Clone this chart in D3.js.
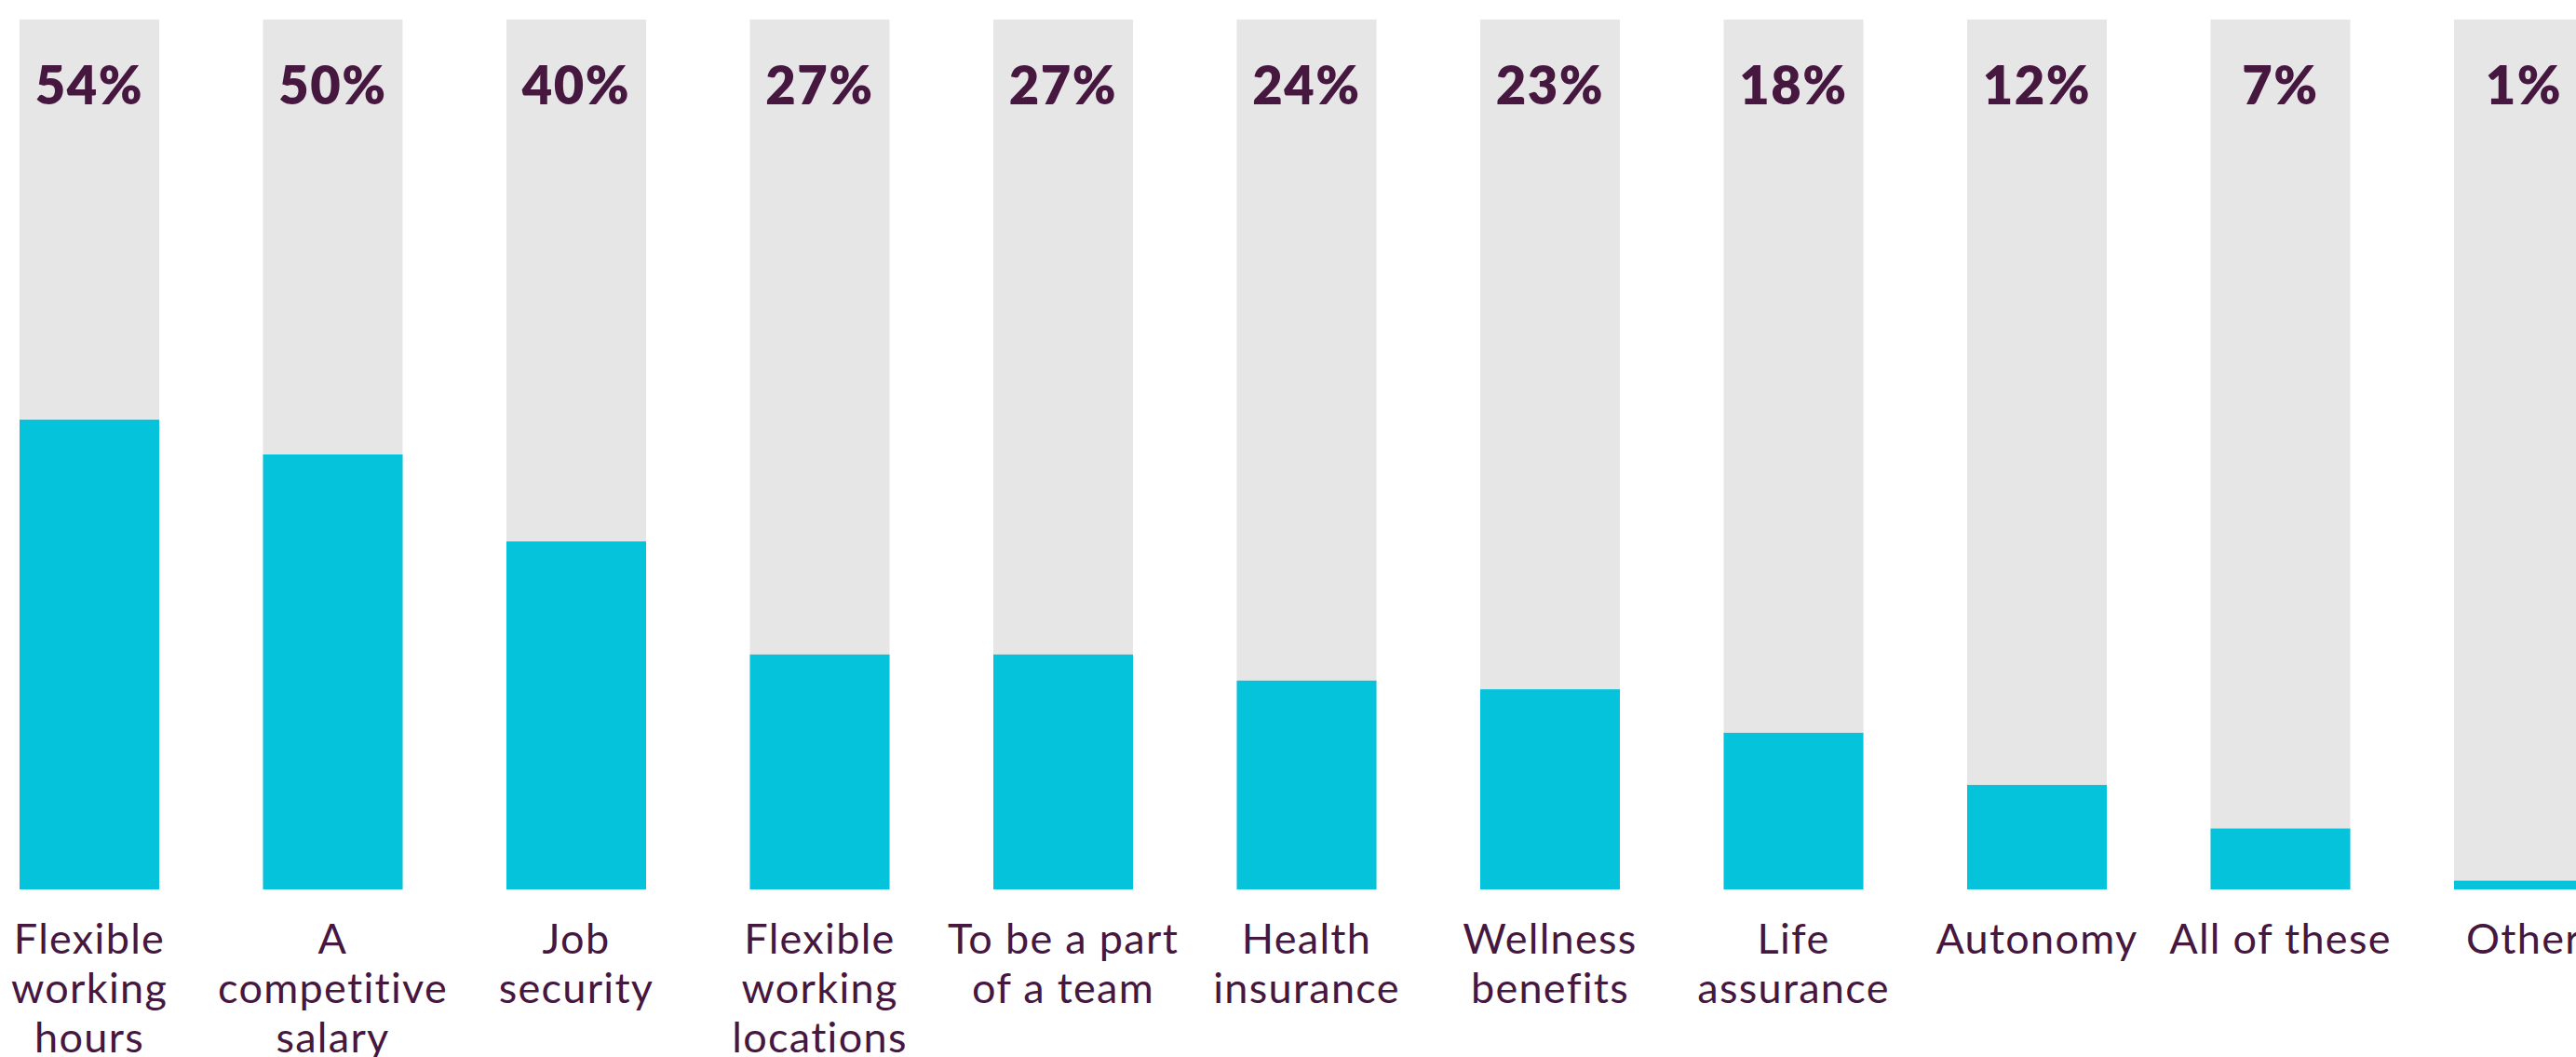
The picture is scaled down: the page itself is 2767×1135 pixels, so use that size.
<!DOCTYPE html>
<html>
<head>
<meta charset="utf-8">
<script src="https://cdn.jsdelivr.net/npm/d3@7"></script>
<style>
  html, body { margin: 0; padding: 0; background: #ffffff; overflow: hidden; }
  svg { display: block; }
  text { font-variant-ligatures: none; font-feature-settings: "liga" 0, "clig" 0; }
</style>
</head>
<body>
<svg id="chart" width="2767" height="1135"></svg>
<script>
// ---- Data ----
const categories = [
  "Flexible working hours",
  "A competitive salary",
  "Job security",
  "Flexible working locations",
  "To be a part of a team",
  "Health insurance",
  "Wellness benefits",
  "Life assurance",
  "Autonomy",
  "All of these",
  "Other"
];
const labelLines = [
  ["Flexible", "working", "hours"],
  ["A", "competitive", "salary"],
  ["Job", "security"],
  ["Flexible", "working", "locations"],
  ["To be a part", "of a team"],
  ["Health", "insurance"],
  ["Wellness", "benefits"],
  ["Life", "assurance"],
  ["Autonomy"],
  ["All of these"],
  ["Other"]
];
const values = [54, 50, 40, 27, 27, 24, 23, 18, 12, 7, 1];
const maxValue = 100;

// ---- Layout ----
const W = 2767, H = 1135;
const svg = d3.select("#chart");
const textColor = "#46173f";
const fillColor = "#06c3dc";
const trackColor = "#e6e6e6";
const fontFam = "Lato, 'Open Sans', sans-serif";

const x = d3.scaleBand()
  .domain(categories)
  .range([21, 2786])
  .paddingInner(0.4264)
  .paddingOuter(0);

const y = d3.scaleLinear()
  .domain([0, maxValue])
  .range([955, 21]);

const data = categories.map((c, i) => ({ cat: c, value: values[i], lines: labelLines[i] }));

const g = svg.append("g");

// background tracks
g.selectAll("rect.track")
  .data(data)
  .join("rect")
  .attr("class", "track")
  .attr("x", d => x(d.cat))
  .attr("width", x.bandwidth())
  .attr("y", y(maxValue))
  .attr("height", y(0) - y(maxValue))
  .attr("fill", trackColor);

// value bars
g.selectAll("rect.bar")
  .data(data)
  .join("rect")
  .attr("class", "bar")
  .attr("x", d => x(d.cat))
  .attr("width", x.bandwidth())
  .attr("y", d => y(d.value))
  .attr("height", d => y(0) - y(d.value))
  .attr("fill", fillColor);

// value labels
g.selectAll("text.val")
  .data(data)
  .join("text")
  .attr("class", "val")
  .attr("x", d => x(d.cat) + x.bandwidth() / 2)
  .attr("y", 112)
  .attr("text-anchor", "middle")
  .attr("font-family", fontFam)
  .attr("font-weight", 800)
  .attr("font-size", 56)
  .attr("letter-spacing", 1.5)
  .attr("fill", textColor)
  .text(d => d.value + "%");

// category labels (axis-like)
const catLabels = g.selectAll("text.cat")
  .data(data)
  .join("text")
  .attr("class", "cat")
  .attr("x", d => x(d.cat) + x.bandwidth() / 2)
  .attr("y", 1024)
  .attr("text-anchor", "middle")
  .attr("font-family", fontFam)
  .attr("font-size", 45)
  .attr("letter-spacing", 1.3)
  .attr("fill", textColor);

catLabels.selectAll("tspan")
  .data(d => d.lines.map(l => ({ l, cx: x(d.cat) + x.bandwidth() / 2 })))
  .join("tspan")
  .attr("x", t => t.cx)
  .attr("dy", (t, i) => i === 0 ? 0 : 53)
  .text(t => t.l);
</script>
</body>
</html>
